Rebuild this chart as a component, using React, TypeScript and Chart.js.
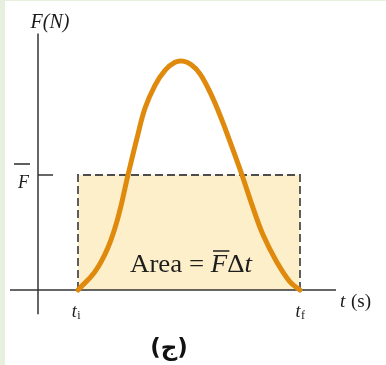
import React, { useEffect, useRef } from "react";
import { Chart, registerables } from "chart.js";

Chart.register(...registerables);

// Force pulse F(t) (t in arbitrary units, F in units of F-bar)
const T_CURVE = [2.0, 2.85, 3.5, 4.0, 4.5, 4.95, 5.35, 5.85, 6.35, 6.85, 7.25, 7.65, 8.1, 8.6, 9.1, 9.6, 10.2, 10.7, 11.25, 11.95, 12.6, 13.1];
const F_CURVE = [0, 0.16, 0.37, 0.63, 1.0, 1.32, 1.58, 1.78, 1.91, 1.98, 1.99, 1.96, 1.88, 1.72, 1.52, 1.29, 1.0, 0.74, 0.48, 0.24, 0.07, 0];

const T_I = 2.0;
const T_F = 13.1;
const F_AVG = 1.0;
const T_AXIS = [-1.4, 14.9];
const F_AXIS = [-0.21, 2.23];
const F_TICK_END = 0.75;

const LABEL_Y = "F(N)";
const LABEL_X = "(s)";
const LABEL_AREA = "Area = ";
const CAPTION = "(ج)";

const X_RANGE = [-1.9, 17.4];
const Y_RANGE = [-0.6522, 2.5217];

const labelsPlugin = {
  id: "labels",
  beforeDraw(chart: any) {
    const ctx = chart.ctx;
    ctx.save();
    ctx.fillStyle = "#ffffff";
    ctx.fillRect(0, 0, chart.width, chart.height);
    ctx.fillStyle = "#e7f0dd";
    ctx.fillRect(0, 0, 5, chart.height);
    ctx.fillRect(0, 0, chart.width, 1);
    ctx.restore();
  },
  afterDatasetsDraw(chart: any) {
    const ctx = chart.ctx;
    const xs = chart.scales.x;
    const ys = chart.scales.y;
    const px = (v: number) => xs.getPixelForValue(v);
    const py = (v: number) => ys.getPixelForValue(v);
    ctx.save();
    ctx.fillStyle = "#1a1a1a";
    ctx.strokeStyle = "#1a1a1a";
    ctx.textBaseline = "alphabetic";

    // F(N)
    ctx.font = "italic 20px 'Liberation Serif'";
    ctx.textAlign = "center";
    ctx.fillText(LABEL_Y, px(0) + 12, py(F_AXIS[1]) - 6);

    // F-bar at left
    ctx.font = "italic 18px 'Liberation Serif'";
    ctx.textAlign = "right";
    const fbX = px(0) - 9;
    const fbY = py(F_AVG) + 13;
    ctx.fillText("F", fbX, fbY);
    ctx.lineWidth = 1.4;
    ctx.beginPath();
    ctx.moveTo(fbX - 15, fbY - 24);
    ctx.lineTo(fbX + 1, fbY - 24);
    ctx.stroke();

    // t (s)
    ctx.textAlign = "left";
    ctx.font = "italic 19px 'Liberation Serif'";
    const tsX = px(T_AXIS[1]) + 4;
    const tsY = py(0) + 17;
    ctx.fillText("t", tsX, tsY);
    const tw = ctx.measureText("t ").width;
    ctx.font = "19px 'Liberation Serif'";
    ctx.fillText(LABEL_X, tsX + tw + 1, tsY);

    // t_i and t_f
    const drawSub = (x: number, sub: string) => {
      ctx.font = "italic 18px 'Liberation Serif'";
      ctx.textAlign = "left";
      const w = ctx.measureText("t").width;
      ctx.font = "12px 'Liberation Serif'";
      const sw = ctx.measureText(sub).width;
      const start = x - (w + sw) / 2;
      ctx.font = "italic 18px 'Liberation Serif'";
      ctx.fillText("t", start, py(0) + 27);
      ctx.font = "12px 'Liberation Serif'";
      ctx.fillText(sub, start + w + 0.5, py(0) + 29);
    };
    drawSub(px(T_I) - 2, "i");
    drawSub(px(T_F), "f");

    // Area = F-bar Δt
    const cx = (px(T_I) + px(T_F)) / 2 + 2;
    const by = py(0) - 18;
    ctx.save();
    const parts = [
      { t: LABEL_AREA, f: "25px 'Liberation Serif'" },
      { t: "F", f: "italic 25px 'Liberation Serif'" },
      { t: "Δ", f: "25px 'Liberation Serif'" },
      { t: "t", f: "italic 25px 'Liberation Serif'" },
    ];
    let total = 0;
    parts.forEach((p) => {
      ctx.font = p.f;
      total += ctx.measureText(p.t).width;
    });
    const target = 122;
    const sx = target / total;
    ctx.translate(cx - target / 2, by);
    ctx.scale(sx, 1);
    let x = 0;
    ctx.textAlign = "left";
    ctx.fillStyle = "#1e1e1e";
    parts.forEach((p, i) => {
      ctx.font = p.f;
      ctx.fillText(p.t, x, 0);
      const w = ctx.measureText(p.t).width;
      if (i === 1) {
        ctx.lineWidth = 1.5;
        ctx.strokeStyle = "#1e1e1e";
        ctx.beginPath();
        ctx.moveTo(x + 2, -21);
        ctx.lineTo(x + w + 2, -21);
        ctx.stroke();
      }
      x += w;
    });
    ctx.restore();

    // caption
    ctx.font = "bold 23px 'DejaVu Sans'";
    ctx.textAlign = "center";
    ctx.fillStyle = "#111111";
    ctx.fillText(CAPTION, 169, 355);
    ctx.restore();
  },
};

export default function App() {
  const ref = useRef<HTMLCanvasElement | null>(null);
  useEffect(() => {
    if (!ref.current) return;
    const curve = T_CURVE.map((t, i) => ({ x: t, y: F_CURVE[i] }));
    const rect = [
      { x: T_I, y: 0 },
      { x: T_I, y: F_AVG },
      { x: T_F, y: F_AVG },
      { x: T_F, y: 0 },
    ];
    const chart = new Chart(ref.current, {
      type: "line",
      data: {
        datasets: [
          {
            data: curve,
            borderColor: "#df8a0c",
            borderWidth: 5,
            pointRadius: 0,
            tension: 0.4,
            borderCapStyle: "round",
            borderJoinStyle: "round",
            fill: false,
            order: 0,
          },
          {
            data: [
              { x: T_AXIS[0], y: 0 },
              { x: T_AXIS[1], y: 0 },
            ],
            borderColor: "#333333",
            borderWidth: 1.5,
            pointRadius: 0,
            fill: false,
            order: 1,
          },
          {
            data: [
              { x: 0, y: F_AXIS[0] },
              { x: 0, y: F_AXIS[1] },
            ],
            borderColor: "#333333",
            borderWidth: 1.5,
            pointRadius: 0,
            fill: false,
            order: 1,
          },
          {
            data: [
              { x: 0, y: F_AVG },
              { x: F_TICK_END, y: F_AVG },
            ],
            borderColor: "#555555",
            borderWidth: 1.8,
            pointRadius: 0,
            fill: false,
            order: 2,
          },
          {
            data: rect,
            borderColor: "#4d4d4d",
            borderWidth: 1.8,
            borderDash: [8, 4],
            backgroundColor: "#fcefca",
            pointRadius: 0,
            tension: 0,
            fill: "origin",
            order: 3,
          },
        ],
      } as any,
      options: {
        animation: false,
        responsive: false,
        maintainAspectRatio: false,
        layout: { padding: 0 },
        plugins: { legend: { display: false }, tooltip: { enabled: false } },
        events: [],
        scales: {
          x: { type: "linear", min: X_RANGE[0], max: X_RANGE[1], display: false },
          y: { type: "linear", min: Y_RANGE[0], max: Y_RANGE[1], display: false },
        },
      } as any,
      plugins: [labelsPlugin],
    });
    return () => chart.destroy();
  }, []);
  return (
    <div style={{ position: "absolute", left: 0, top: 0, width: 386, height: 365 }}>
      <canvas ref={ref} width={386} height={365} style={{ width: 386, height: 365, display: "block" }} />
    </div>
  );
}
